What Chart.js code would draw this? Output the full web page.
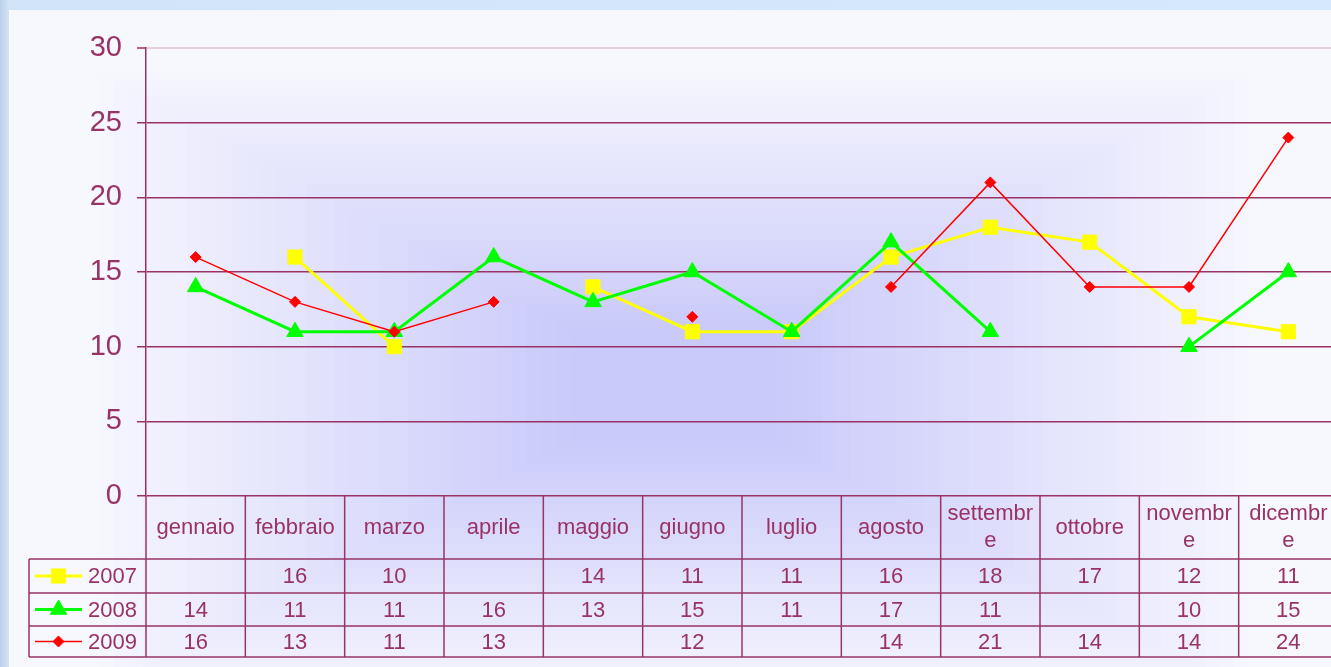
<!DOCTYPE html>
<html lang="it">
<head>
<meta charset="utf-8">
<title>2007 - 2009</title>
<script src="https://cdn.jsdelivr.net/npm/chart.js"></script>
<style>
  html, body {
    margin: 0;
    padding: 0;
    width: 1331px;
    height: 667px;
    overflow: hidden;
    background: linear-gradient(to right, #b9d0e8 0px, #d2e4f8 9px, #d6e8fb 100%);
  }
  #wrap {
    position: absolute;
    left: 9px;
    top: 10px;
    width: 1340px;
    height: 657px;
    background: #f7f7fe;
  }
  #chart-mesi {
    display: block;
  }
</style>
</head>
<body>
<div id="wrap">
  <canvas id="chart-mesi" width="1340" height="657"></canvas>
</div>
<script>
// Dati
const months = ['gennaio', 'febbraio', 'marzo', 'aprile', 'maggio', 'giugno',
  'luglio', 'agosto', 'settembre', 'ottobre', 'novembre', 'dicembre'];
const years = ['2007', '2008', '2009'];
const values2007 = [null, 16, 10, null, 14, 11, 11, 16, 18, 17, 12, 11];
const values2008 = [14, 11, 11, 16, 13, 15, 11, 17, 11, null, 10, 15];
const values2009 = [16, 13, 11, 13, null, 12, null, 14, 21, 14, 14, 24];
const yTicks = [0, 5, 10, 15, 20, 25, 30];

const PLUM = '#993366';
const FONT = '"Liberation Sans", Arial, sans-serif';

document.addEventListener('DOMContentLoaded', function() {
  initMonthChart();
});

/**
 * Sfondo: sfumatura rettangolare dal centro (come in Excel)
 */
const backgroundPlugin = {
  id: 'bgGradient',
  beforeDraw(chart) {
    const ctx = chart.ctx;
    const cx = 665, cy = 375;
    const ax = 590, ay = 320;
    const steps = 40;
    const outer = [247, 247, 254];
    const inner = [201, 201, 250];
    ctx.save();
    for (let i = 0; i < steps; i++) {
      const f = 1 - i / steps;
      const t = Math.min(1, (i / (steps - 1)) / 0.85);
      const c = outer.map((o, k) => Math.round(o + (inner[k] - o) * t));
      ctx.fillStyle = `rgb(${c[0]},${c[1]},${c[2]})`;
      ctx.fillRect(cx - ax * f, cy - ay * f, 2 * ax * f, 2 * ay * f);
    }
    ctx.restore();
  }
};

/**
 * Tabella dati sotto il grafico (mesi + valori + legenda)
 */
const dataTablePlugin = {
  id: 'dataTable',
  afterDraw(chart) {
    const ctx = chart.ctx;
    const area = chart.chartArea;
    const xScale = chart.scales.x;
    const rows = [549, 583, 616, 647];
    const leftEdge = 20;
    const colW = (area.right - area.left) / months.length;

    ctx.save();
    ctx.strokeStyle = PLUM;
    ctx.lineWidth = 1.5;

    // righe orizzontali
    rows.forEach(y => {
      ctx.beginPath();
      ctx.moveTo(leftEdge, y);
      ctx.lineTo(area.right, y);
      ctx.stroke();
    });
    // bordo sinistro della legenda
    ctx.beginPath();
    ctx.moveTo(leftEdge, rows[0]);
    ctx.lineTo(leftEdge, rows[3]);
    ctx.stroke();
    // colonne dei mesi
    for (let i = 0; i <= months.length; i++) {
      const x = area.left + i * colW;
      ctx.beginPath();
      ctx.moveTo(x, area.bottom);
      ctx.lineTo(x, rows[3]);
      ctx.stroke();
    }

    ctx.fillStyle = PLUM;
    ctx.font = '22px ' + FONT;
    ctx.textAlign = 'center';
    ctx.textBaseline = 'middle';

    // intestazione con i nomi dei mesi, a capo come in Excel
    const headerMid = (area.bottom + rows[0]) / 2;
    months.forEach((m, i) => {
      const x = xScale.getPixelForValue(i);
      const lines = wrapText(ctx, m, 88);
      const lh = 27;
      lines.forEach((line, k) => {
        ctx.fillText(line, x, headerMid + (k - (lines.length - 1) / 2) * lh);
      });
    });

    // valori delle serie
    chart.data.datasets.forEach((ds, r) => {
      const y = (rows[r] + rows[r + 1]) / 2;
      ds.data.forEach((v, i) => {
        if (v === null) return;
        ctx.fillText(String(v), xScale.getPixelForValue(i), y + 1);
      });

      // legenda nella prima colonna
      ctx.save();
      ctx.strokeStyle = ds.borderColor;
      ctx.lineWidth = ds.borderWidth;
      ctx.beginPath();
      ctx.moveTo(26, y);
      ctx.lineTo(73, y);
      ctx.stroke();
      ctx.fillStyle = ds.pointBackgroundColor;
      ctx.strokeStyle = ds.pointBorderColor;
      ctx.lineWidth = ds.pointBorderWidth;
      Chart.helpers.drawPoint(ctx, {
        pointStyle: ds.pointStyle,
        radius: ds.pointRadius,
        borderWidth: ds.pointBorderWidth,
        rotation: 0
      }, 49.5, y);
      ctx.restore();

      ctx.textAlign = 'left';
      ctx.fillText(ds.label, 79, y + 1);
      ctx.textAlign = 'center';
    });

    ctx.restore();
  }
};

/**
 * Spezza la parola per lettere quando supera la larghezza
 */
function wrapText(ctx, text, maxWidth) {
  const lines = [];
  let cur = '';
  for (const ch of text) {
    if (cur && ctx.measureText(cur + ch).width > maxWidth) {
      lines.push(cur);
      cur = ch;
    } else {
      cur += ch;
    }
  }
  if (cur) lines.push(cur);
  return lines;
}

/**
 * Grafico a linee per mese
 */
function initMonthChart() {
  const canvas = document.getElementById('chart-mesi');
  if (!canvas) return;

  new Chart(canvas, {
    type: 'line',
    data: {
      labels: months,
      datasets: [{
        label: years[0],
        data: values2007,
        borderColor: '#ffff00',
        borderWidth: 3,
        pointStyle: 'rect',
        pointRadius: 10,
        pointBackgroundColor: '#ffff00',
        pointBorderColor: '#ffff00',
        pointBorderWidth: 1,
        order: 3
      }, {
        label: years[1],
        data: values2008,
        borderColor: '#00ff00',
        borderWidth: 3,
        pointStyle: 'triangle',
        pointRadius: 9.5,
        pointBackgroundColor: '#00ff00',
        pointBorderColor: '#00ff00',
        pointBorderWidth: 1,
        order: 2
      }, {
        label: years[2],
        data: values2009,
        borderColor: '#ff0000',
        borderWidth: 1.5,
        pointStyle: 'rectRot',
        pointRadius: 5.5,
        pointBackgroundColor: '#ff0000',
        pointBorderColor: '#ff0000',
        pointBorderWidth: 1,
        order: 1
      }]
    },
    options: {
      responsive: false,
      animation: false,
      spanGaps: false,
      devicePixelRatio: 1,
      layout: {
        padding: { left: 0, top: 38, right: 11, bottom: 171 }
      },
      elements: {
        line: { tension: 0 }
      },
      plugins: {
        legend: { display: false },
        tooltip: { enabled: false },
        title: { display: false }
      },
      scales: {
        x: {
          type: 'category',
          offset: true,
          display: false
        },
        y: {
          min: 0,
          max: 30,
          afterFit(scale) {
            scale.width = 137;
          },
          afterBuildTicks(scale) {
            scale.ticks = yTicks.map(v => ({ value: v }));
          },
          ticks: {
            color: PLUM,
            padding: 15,
            font: { family: FONT, size: 29 }
          },
          grid: {
            color: ctx => (ctx.tick && ctx.tick.value === 30 ? '#e4cfde' : PLUM),
            lineWidth: ctx => (ctx.tick && ctx.tick.value === 30 ? 2 : 1.5),
            tickColor: PLUM,
            tickLength: 9,
            tickWidth: 1.5
          },
          border: {
            display: true,
            color: PLUM,
            width: 1.5
          }
        }
      }
    },
    plugins: [backgroundPlugin, dataTablePlugin]
  });
}
</script>
</body>
</html>
